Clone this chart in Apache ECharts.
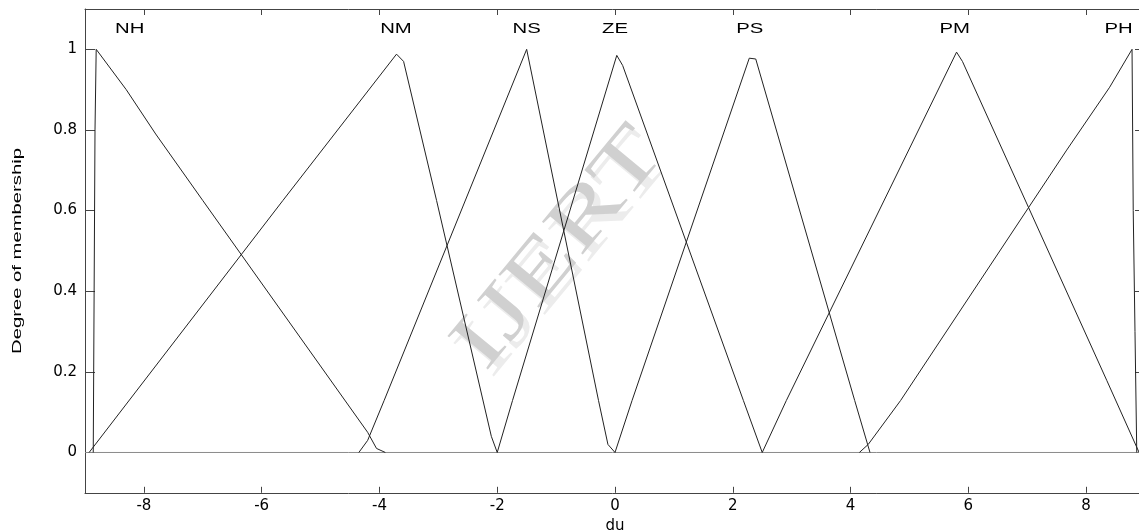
<!DOCTYPE html>
<html><head><meta charset="utf-8">
<script src="https://cdn.jsdelivr.net/npm/echarts@6/dist/echarts.min.js"></script>
<style>html,body{margin:0;padding:0;background:#fff}#c{width:1139px;height:531px}</style>
</head><body><div id="c"></div>
<script>
// tick labels
const xTicks = [-8, -6, -4, -2, 0, 2, 4, 6, 8];
const yTicks = [0, 0.2, 0.4, 0.6, 0.8, 1];
// membership function names and label positions
const mfNames = ['NH', 'NM', 'NS', 'ZE', 'PS', 'PM', 'PH'];
const mfLabelX = [-8.24, -3.72, -1.5, 0, 2.29, 5.77, 8.55];
const mfLabelY = 1.05;
// membership functions (du, degree)
const NH = [[-8.86,0],[-8.83,0.8],[-8.81,1],[-8.3,0.9],[-7.8,0.79],[-7.0,0.625],[-4.2,0.05],[-4.05,0.01],[-3.9,0]];
const NM = [[-8.93,0],[-5.64,0.625],[-3.71,0.988],[-3.59,0.97],[-3.03,0.625],[-2.1,0.04],[-2.0,0]];
const NS = [[-4.35,0],[-4.2,0.03],[-3.92,0.129],[-1.5,1.0],[-0.28,0.129],[-0.12,0.02],[0,0]];
const ZE = [[-2.0,0],[-1.74,0.129],[0.03,0.985],[0.13,0.96],[2.18,0.129],[2.5,0]];
const PS = [[0,0],[0.29,0.129],[2.28,0.978],[2.39,0.976],[4.07,0.129],[4.33,0]];
const PM = [[2.5,0],[2.91,0.129],[5.8,0.993],[5.9,0.97],[8.35,0.179],[8.9,0]];
const PH = [[4.15,0],[4.3,0.02],[4.85,0.129],[7.67,0.75],[8.4,0.906],[8.78,1.0],[8.8,0.6],[8.83,0.3],[8.86,0]];
const zeroLevel = [[-9,0],[9,0]];
const mfData = [NH, NM, NS, ZE, PS, PM, PH];

const chart = echarts.init(document.getElementById('c'), null, {renderer: 'canvas'});
const axisCol = '#444';
const tickFont = {color: '#000', fontSize: 15, fontFamily: 'DejaVu Sans'};

const lineSeries = mfData.map((d, i) => ({
  name: mfNames[i], type: 'line', data: d, symbol: 'none', showSymbol: false,
  lineStyle: {color: '#222', width: 1}, silent: true, z: 3, animation: false
}));
const zeroSeries = {
  name: 'zero', type: 'line', data: zeroLevel, symbol: 'none', showSymbol: false,
  lineStyle: {color: '#8a8a8a', width: 1}, silent: true, z: 2, animation: false
};

const labelSeries = {
  type: 'custom', clip: false, silent: true, z: 4, animation: false,
  data: mfNames.map((n, i) => [mfLabelX[i], mfLabelY]),
  renderItem: function (params, api) {
    const p = api.coord([api.value(0), api.value(1)]);
    return {
      type: 'text', x: p[0], y: p[1], scaleX: 1.45,
      style: {text: mfNames[params.dataIndex], fill: '#000', font: '14px "Liberation Sans", Arial, sans-serif',
        align: 'center', verticalAlign: 'middle', textAlign: 'center', textVerticalAlign: 'middle'}
    };
  }
};

const xBase = {
  type: 'value', min: -9, max: 9, gridIndex: 0,
  axisLine: {show: true, onZero: false, lineStyle: {color: axisCol, width: 1}},
  axisTick: {show: true, inside: true, length: 6, customValues: xTicks, lineStyle: {color: axisCol}},
  splitLine: {show: false}
};
const yBase = {
  type: 'value', min: -0.1, max: 1.1, gridIndex: 0,
  axisLine: {show: true, onZero: false, lineStyle: {color: axisCol, width: 1}},
  axisTick: {show: true, inside: true, length: 10, customValues: yTicks, lineStyle: {color: axisCol}},
  splitLine: {show: false}
};

chart.setOption({
  animation: false,
  backgroundColor: '#fff',
  grid: {left: 85, right: -6, top: 9, bottom: 38.2, containLabel: false, outerBoundsMode: 'none'},
  xAxis: [
    Object.assign({}, xBase, {position: 'bottom',
      axisLabel: Object.assign({show: true, customValues: xTicks, margin: 6}, tickFont),
      name: 'du', nameLocation: 'middle', nameGap: 18,
      nameTextStyle: {color: '#000', fontSize: 15, fontFamily: 'DejaVu Sans'}}),
    Object.assign({}, xBase, {position: 'top', axisLabel: {show: false}})
  ],
  yAxis: [
    Object.assign({}, yBase, {position: 'left',
      axisLabel: Object.assign({show: true, customValues: yTicks, margin: 8,
        formatter: v => String(v)}, tickFont)}),
    Object.assign({}, yBase, {position: 'right', axisLabel: {show: false}})
  ],
  graphic: [
    {type: 'text', x: 566, y: 256, rotation: 0.88, scaleX: 1.4, z: -10, silent: true,
      style: {text: 'IJERT', fill: '#ececec', font: '80px "Liberation Serif", serif', align: 'center', verticalAlign: 'middle'}},
    {type: 'text', x: 560, y: 249, rotation: 0.88, scaleX: 1.4, z: -9, silent: true,
      style: {text: 'IJERT', fill: '#d0d0d0', font: '80px "Liberation Serif", serif', align: 'center', verticalAlign: 'middle'}},
    {type: 'text', x: 18, y: 251, rotation: Math.PI / 2, scaleX: 1.62, silent: true,
      style: {text: 'Degree of membership', fill: '#000', font: '12.5px "Liberation Sans", Arial, sans-serif',
        align: 'center', verticalAlign: 'middle'}}
  ],
  series: [zeroSeries].concat(lineSeries).concat([labelSeries])
});
</script></body></html>
